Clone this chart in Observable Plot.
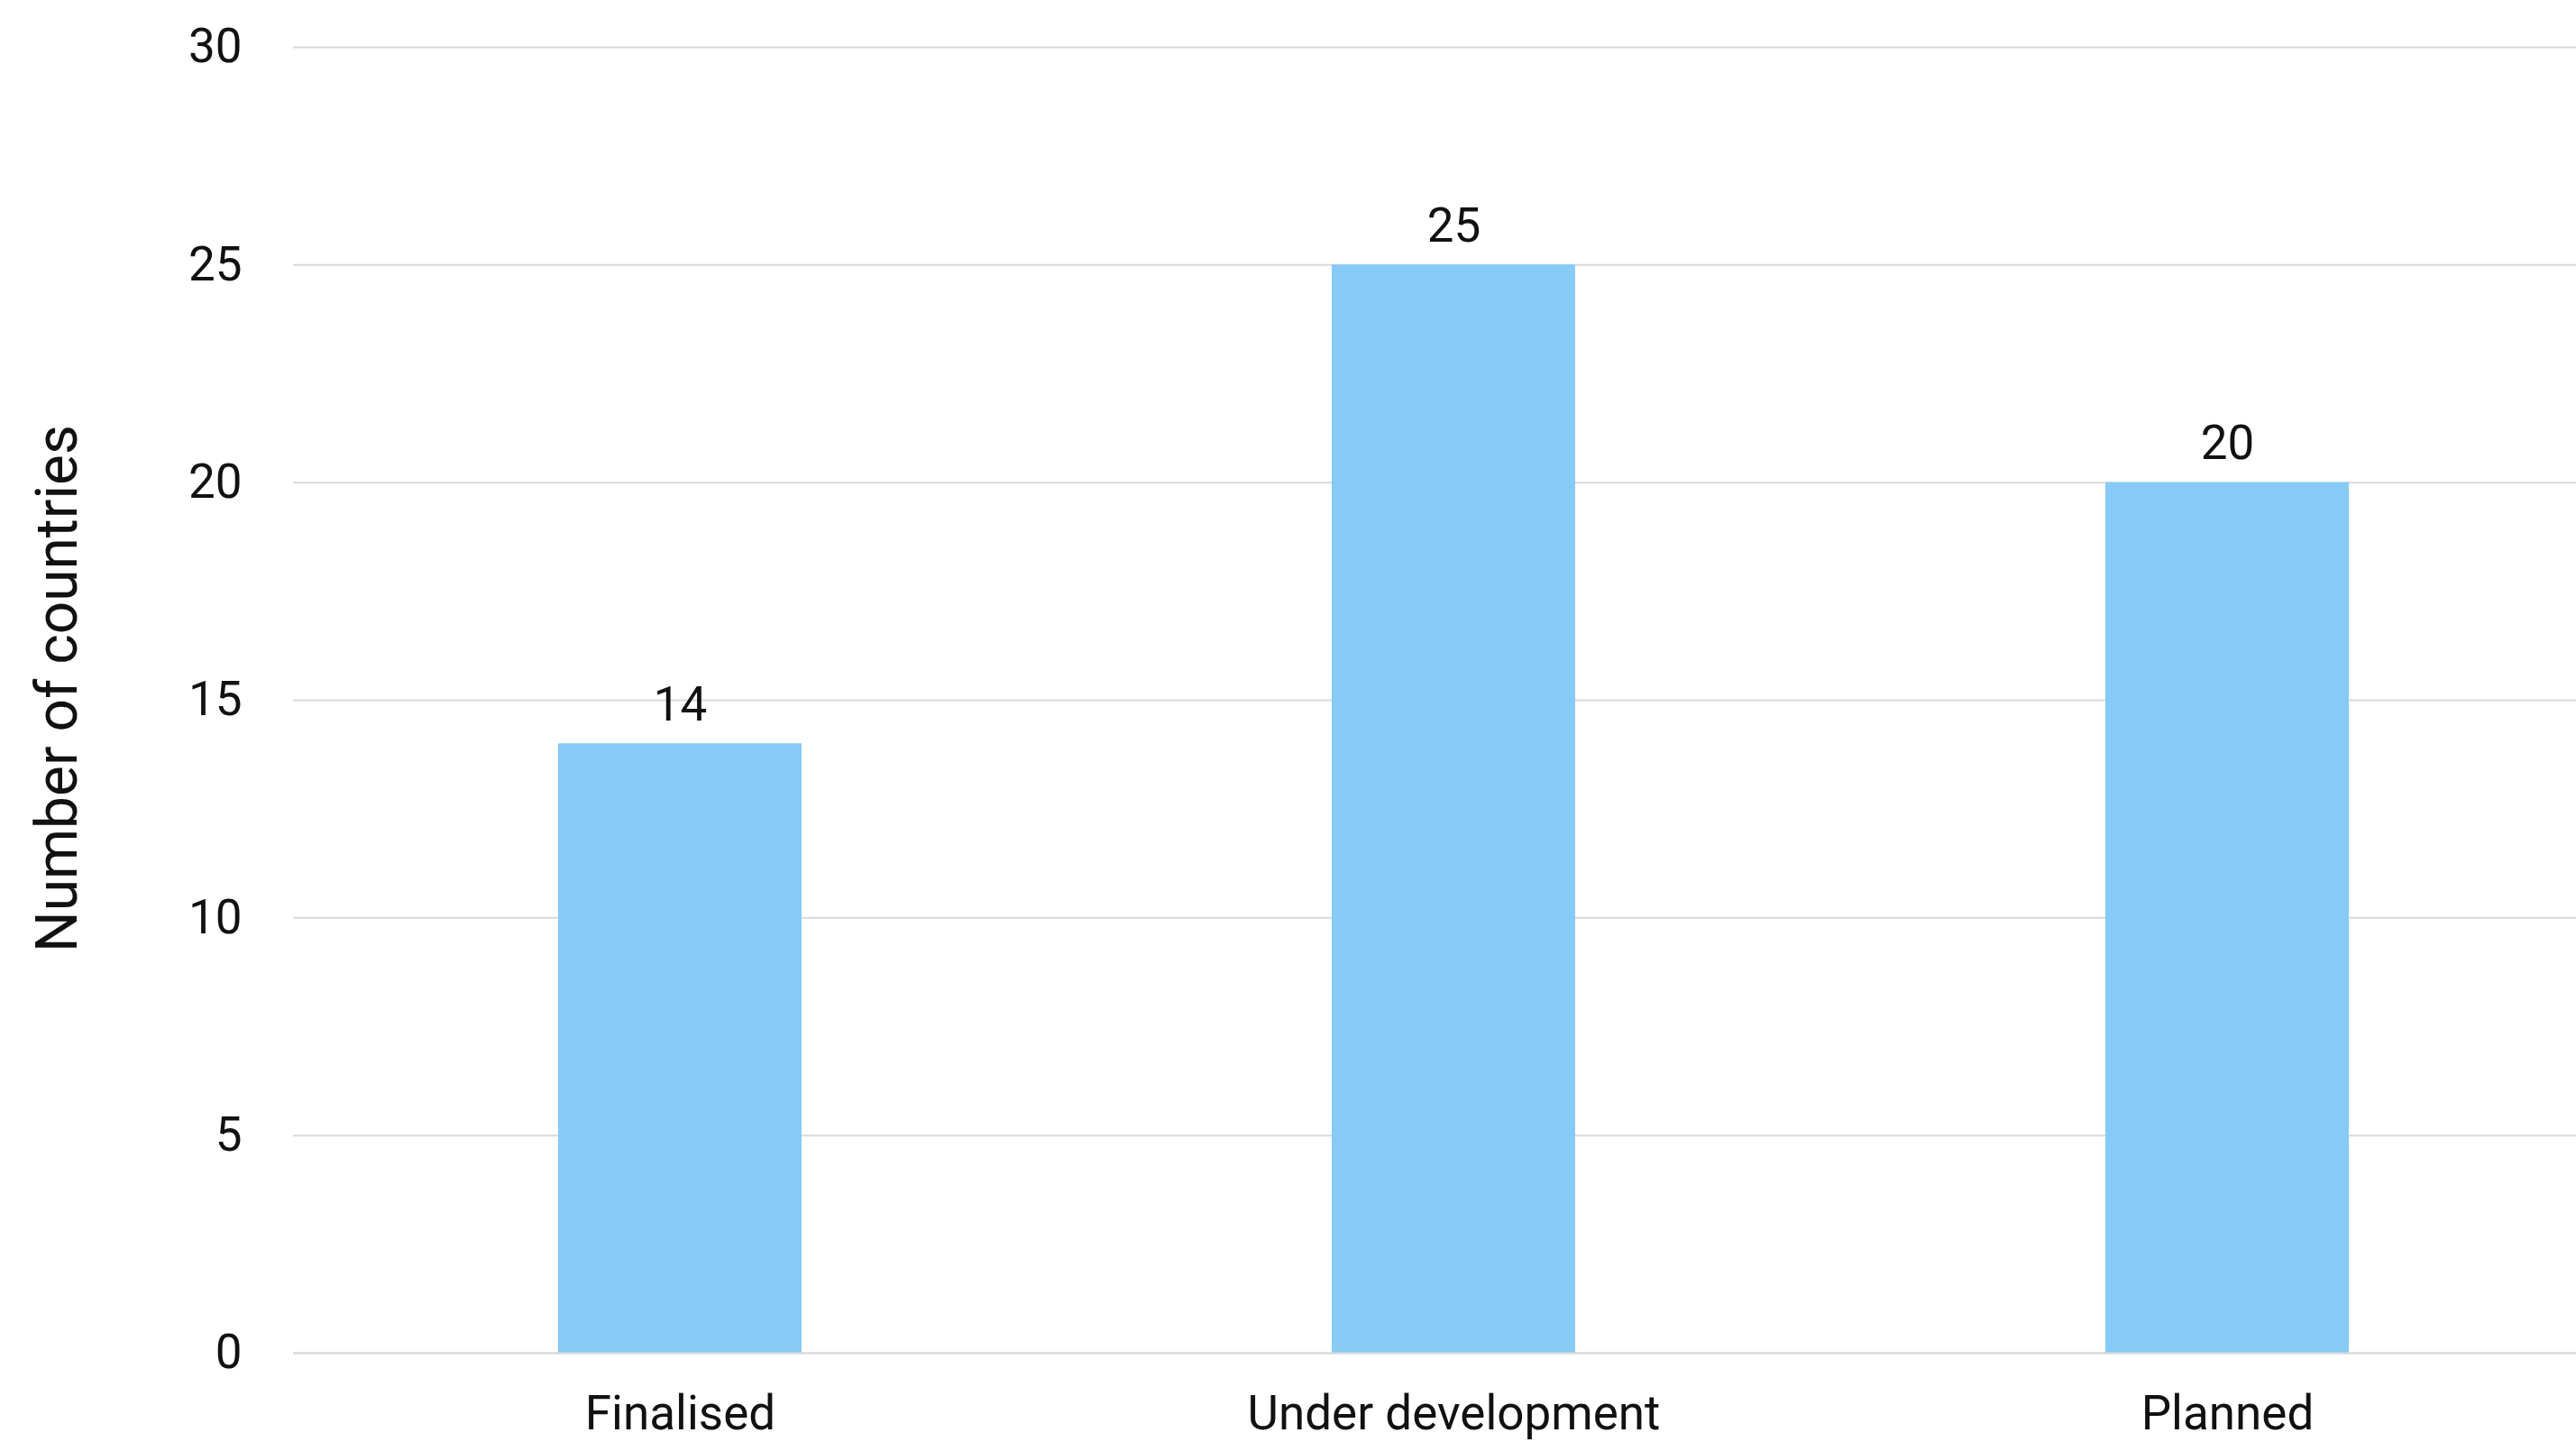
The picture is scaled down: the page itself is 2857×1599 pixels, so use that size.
<!DOCTYPE html>
<html>
<head>
<meta charset="utf-8">
<script src="https://cdn.jsdelivr.net/npm/d3@7"></script>
<script src="https://cdn.jsdelivr.net/npm/@observablehq/plot@0.6"></script>
<style>
  html, body { margin: 0; padding: 0; background: #fff; overflow: hidden; }
  #chart svg { display: block; overflow: hidden; }
</style>
</head>
<body>
<div id="chart"></div>
<script>
const categories = ["Finalised", "Under development", "Planned"];
const counts = [14, 25, 20];
const yTicks = [0, 5, 10, 15, 20, 25, 30];
const yLabel = "Number of countries";

const data = categories.map((c, i) => ({category: c, count: counts[i]}));

const font = "Roboto, 'Noto Sans', sans-serif";
const barColor = "#86cbf6";
const textColor = "#111111";

const chart = Plot.plot({
  width: 2857,
  height: 1599,
  marginLeft: 325,
  marginRight: -43,
  marginTop: 52,
  marginBottom: 99,
  style: {fontFamily: font, fontSize: "53px", color: textColor, background: "#fff", overflow: "hidden"},
  x: {domain: categories, paddingInner: 0.685, paddingOuter: 0.3425, label: null},
  y: {domain: [0, 30], label: null},
  marks: [
    Plot.gridY(yTicks, {stroke: "#d9d9d9", strokeOpacity: 1, strokeWidth: 2}),
    Plot.barY(data, {x: "category", y: "count", fill: barColor}),
    Plot.ruleY([0], {stroke: "#d9d9d9", strokeWidth: 2}),
    Plot.axisY({ticks: yTicks, tickSize: 0, tickPadding: 57, label: null, fontSize: 53, fill: textColor}),
    Plot.axisX({tickSize: 0, tickPadding: 47, label: null, fontSize: 53, fill: textColor}),
    Plot.text(data, {x: "category", y: "count", text: d => String(d.count), lineAnchor: "bottom", dy: -26, fontSize: 53, fill: textColor}),
    Plot.text([yLabel], {frameAnchor: "left", textAnchor: "middle", text: d => d, rotate: -90, dx: -261, dy: -13, fontSize: 64, fill: textColor})
  ]
});
document.getElementById("chart").append(chart);
</script>
</body>
</html>
